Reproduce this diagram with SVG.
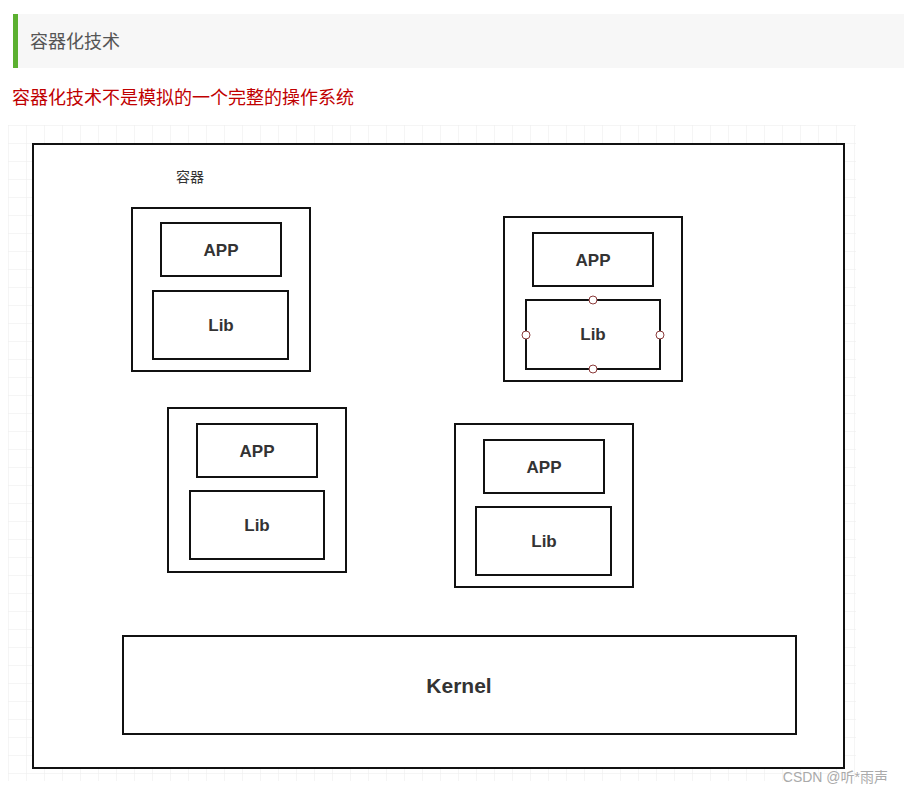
<svg xmlns="http://www.w3.org/2000/svg" width="904" height="794" viewBox="0 0 904 794">
<style>
.b{fill:#fff;stroke:#111;stroke-width:2}
.t{font-family:"Liberation Sans","Noto Sans CJK SC",sans-serif;font-weight:bold;font-size:17px;fill:#333;text-anchor:middle}
.h{fill:#fff;stroke:#8b3a3a;stroke-width:1}
</style>
<defs>
<pattern id="g" x="8" y="125" width="18" height="18" patternUnits="userSpaceOnUse">
<path d="M0 0H18M0 0V18" stroke="#ebebeb" stroke-width="1" fill="none"/>
</pattern>
</defs>
<rect width="904" height="794" fill="#fff"/>
<rect x="13" y="14" width="891" height="54" fill="#f7f7f7"/>
<rect x="13" y="14" width="5" height="54" fill="#5bb030"/>
<text x="30" y="48" font-family="'Noto Sans CJK SC',sans-serif" font-size="18" fill="#555">容器化技术</text>
<text x="12" y="104" font-family="'Noto Sans CJK SC',sans-serif" font-size="18" fill="#c00000">容器化技术不是模拟的一个完整的操作系统</text>
<rect x="8" y="125" width="848" height="656" fill="url(#g)"/>
<g id="host"><rect class="b" x="33" y="144" width="811" height="624"/></g>
<text x="190" y="182" font-family="'Noto Sans CJK SC',sans-serif" font-size="14" fill="#333" text-anchor="middle">容器</text>
<g id="c1"><rect class="b" x="132" y="208" width="178" height="163"/>
<rect class="b" x="161" y="223" width="120" height="53"/><text class="t" x="221" y="256">APP</text>
<rect class="b" x="153" y="291" width="135" height="68"/><text class="t" x="221" y="331">Lib</text></g>
<g id="c2"><rect class="b" x="504" y="217" width="178" height="164"/>
<rect class="b" x="533" y="233" width="120" height="53"/><text class="t" x="593" y="266">APP</text>
<rect class="b" x="526" y="300" width="134" height="69"/><text class="t" x="593" y="340">Lib</text>
<circle class="h" cx="593" cy="300" r="4"/><circle class="h" cx="593" cy="369" r="4"/><circle class="h" cx="526" cy="335" r="4"/><circle class="h" cx="660" cy="335" r="4"/></g>
<g id="c3"><rect class="b" x="168" y="408" width="178" height="164"/>
<rect class="b" x="197" y="424" width="120" height="53"/><text class="t" x="257" y="457">APP</text>
<rect class="b" x="190" y="491" width="134" height="68"/><text class="t" x="257" y="531">Lib</text></g>
<g id="c4"><rect class="b" x="455" y="424" width="178" height="163"/>
<rect class="b" x="484" y="440" width="120" height="53"/><text class="t" x="544" y="473">APP</text>
<rect class="b" x="476" y="507" width="135" height="68"/><text class="t" x="544" y="547">Lib</text></g>
<g id="kernel"><rect class="b" x="123" y="636" width="673" height="98"/><text class="t" x="459" y="693" style="font-size:21px">Kernel</text></g>
<g id="connectors"></g>
<text x="888" y="782" font-family="'Liberation Sans','Noto Sans CJK SC',sans-serif" font-size="14" fill="#aaa" text-anchor="end">CSDN @听*雨声</text>
</svg>
